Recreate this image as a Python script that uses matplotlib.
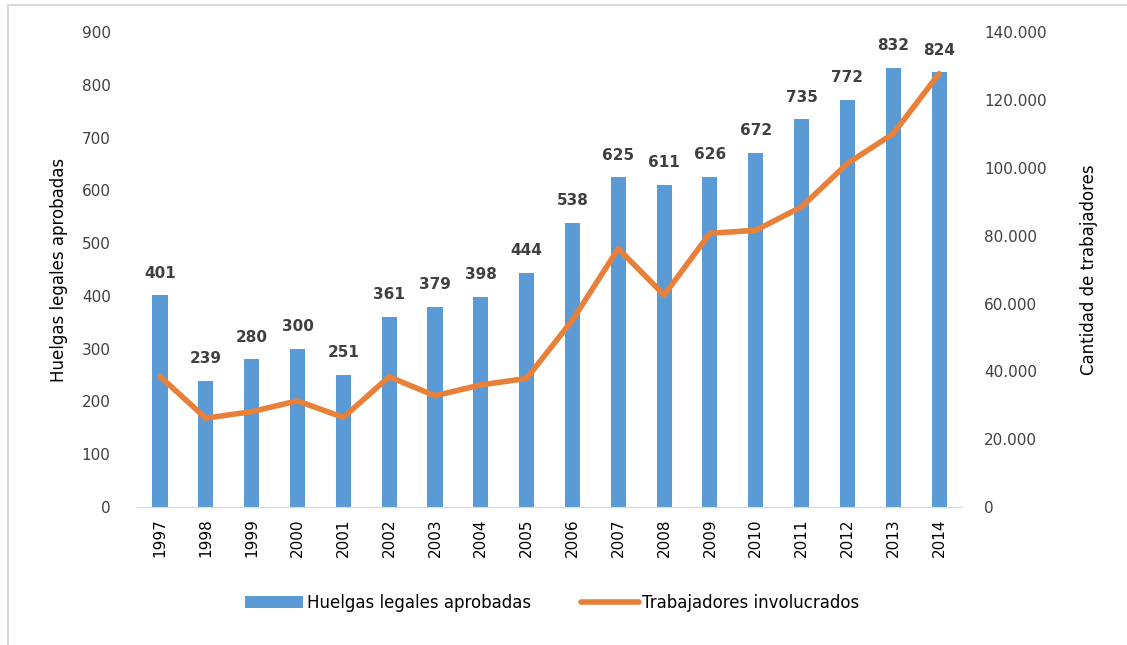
import matplotlib.pyplot as plt
import numpy as np
import matplotlib
from matplotlib.patches import Rectangle
from matplotlib.ticker import FuncFormatter

matplotlib.rc('font', family='DejaVu Sans')

years = ['1997', '1998', '1999', '2000', '2001', '2002', '2003', '2004', '2005',
         '2006', '2007', '2008', '2009', '2010', '2011', '2012', '2013', '2014']
huelgas = [401, 239, 280, 300, 251, 361, 379, 398, 444,
           538, 625, 611, 626, 672, 735, 772, 832, 824]
trabajadores = [38500, 26200, 28100, 31300, 26400, 38400, 32800, 36000, 37900,
                55100, 76200, 62500, 80700, 81600, 88500, 101300, 110100, 127800]

bar_color = '#5b9bd5'
line_color = '#e8803a'
text_color = '#404040'

index = np.arange(len(years))

fig = plt.figure(figsize=(11.27, 6.45), dpi=100)
ax = fig.add_axes([0.1216, 0.214, 0.732, 0.736])
ax2 = ax.twinx()

bars = ax.bar(index, huelgas, 0.33, color=bar_color, label='Huelgas legales aprobadas', zorder=2)
for i, v in enumerate(huelgas):
    ax.text(index[i], v + 28, str(v), ha='center', va='bottom', fontsize=11,
            fontweight='bold', color=text_color)

line, = ax2.plot(index, trabajadores, color=line_color, linewidth=4,
                 solid_capstyle='round', label='Trabajadores involucrados', zorder=3)

ax.set_xlim(-0.5, len(years) - 0.5)
ax.set_ylim(0, 900)
ax.set_yticks(np.arange(0, 901, 100))
ax2.set_ylim(0, 140000)
ax2.set_yticks(np.arange(0, 140001, 20000))
ax2.yaxis.set_major_formatter(FuncFormatter(lambda v, p: '0' if v == 0 else f'{int(v):,}'.replace(',', '.')))

ax.set_xticks(index)
ax.set_xticklabels(years, rotation=90, fontsize=11, color='black')
ax.tick_params(axis='y', labelsize=11, length=0, pad=19, colors=text_color)
ax2.tick_params(axis='y', labelsize=11, length=0, pad=16, colors=text_color)
ax.tick_params(axis='x', length=0, pad=8)

for spine in ['top', 'left', 'right']:
    ax.spines[spine].set_visible(False)
    ax2.spines[spine].set_visible(False)
ax2.spines['bottom'].set_visible(False)
ax.spines['bottom'].set_color('#d9d9d9')

ax.set_ylabel('Huelgas legales aprobadas', fontsize=12, color='black', labelpad=10)
ax2.set_ylabel('Cantidad de trabajadores', fontsize=12, color='black', labelpad=24)

fig.legend(handles=[bars, line], loc='center', bbox_to_anchor=(0.49, 0.065), ncol=2,
           frameon=False, fontsize=12, handlelength=3.5, columnspacing=3, handletextpad=0.2)

fig.add_artist(Rectangle((8 / 1127, -0.01), 1.2, 1 - 5 / 645 + 0.01, transform=fig.transFigure,
                         fill=False, edgecolor='#d9d9d9', linewidth=1.5))

fig.savefig('out.png', dpi=100)
